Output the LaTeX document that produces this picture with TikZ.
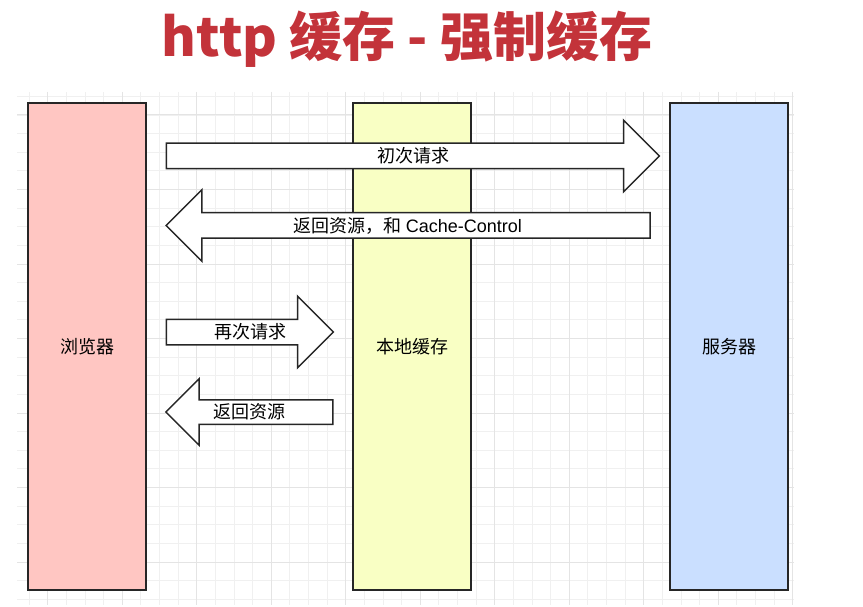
\documentclass[tikz,border=0pt]{standalone}
\usepackage{fontspec}
\newfontfamily\cjk{Noto Sans CJK SC}
\newfontfamily\lat{Liberation Sans}
\usetikzlibrary{shapes.arrows,calc}
\definecolor{titlered}{HTML}{C3333A}
\definecolor{browserpink}{HTML}{FFC6C2}
\definecolor{cacheyellow}{HTML}{F9FFC4}
\definecolor{serverblue}{HTML}{CADFFF}
\definecolor{gridminor}{HTML}{F0F0F0}
\definecolor{gridmajor}{HTML}{E4E4E4}

\begin{document}
\begin{tikzpicture}[x=1pt,y=-1pt,
  lane/.style={draw=black!85,line width=1.5pt,minimum width=118pt,minimum height=487pt,font=\cjk\fontsize{18}{20}\selectfont},
  flow/.style={single arrow,draw=black!85,fill=white,line width=1.5pt,single arrow tip angle=90,single arrow head extend=23pt,minimum width=70pt,inner sep=0pt,text height=12pt,text depth=12pt},
  flowlabel/.style={inner sep=0pt,font=\cjk\fontsize{18}{20}\selectfont}]
\useasboundingbox (0,0) rectangle (863,607);
% grid paper
\begin{scope}
\clip (17,92) rectangle (794,605);
\foreach \i in {0,...,42} \draw[gridminor,line width=0.8pt] (10.45+18.625*\i,92) -- (10.45+18.625*\i,605);
\foreach \j in {0,...,28} \draw[gridminor,line width=0.8pt] (17,77.75+18.625*\j) -- (794,77.75+18.625*\j);
\foreach \i in {0,...,10} \draw[gridmajor,line width=1pt] (47.7+74.5*\i,92) -- (47.7+74.5*\i,605);
\foreach \j in {-1,...,6} \draw[gridmajor,line width=1pt] (17,115+74.5*\j) -- (794,115+74.5*\j);
\end{scope}
\node[text=titlered,font=\cjk\bfseries\fontsize{53}{56}\selectfont] (title) at (407,39) {http 缓存 - 强制缓存};
% lanes
\node[lane,fill=browserpink] (browser) at (87,346.5) {浏览器};
\node[lane,fill=cacheyellow] (cache) at (412,346.5) {本地缓存};
\node[lane,fill=serverblue] (server) at (729,346.5) {服务器};
% block arrows
\node[flow,minimum height=493pt] (first) at (406.5,156) {};
\node[flow,minimum height=484pt,shape border rotate=180] (reply) at (414.5,225.5) {};
\node[flow,minimum height=167pt] (again) at (243.5,332) {};
\node[flow,minimum height=167pt,shape border rotate=180,single arrow head extend=21pt,minimum width=65pt,text height=11.5pt,text depth=11.5pt] (hit) at (255.5,412) {};
\node[flowlabel] (firstlbl) at ($(first.tail)!.5!(first.tip)$) {初次请求};
\node[flowlabel] (replylbl) at ($(reply.tail)!.5!(reply.tip)$) {返回资源，和 {\lat Cache-Control}};
\node[flowlabel] (againlbl) at ($(again.tail)!.5!(again.tip)$) {再次请求};
\node[flowlabel] (hitlbl) at ($(hit.tail)!.5!(hit.tip)$) {返回资源};
\end{tikzpicture}
\end{document}
